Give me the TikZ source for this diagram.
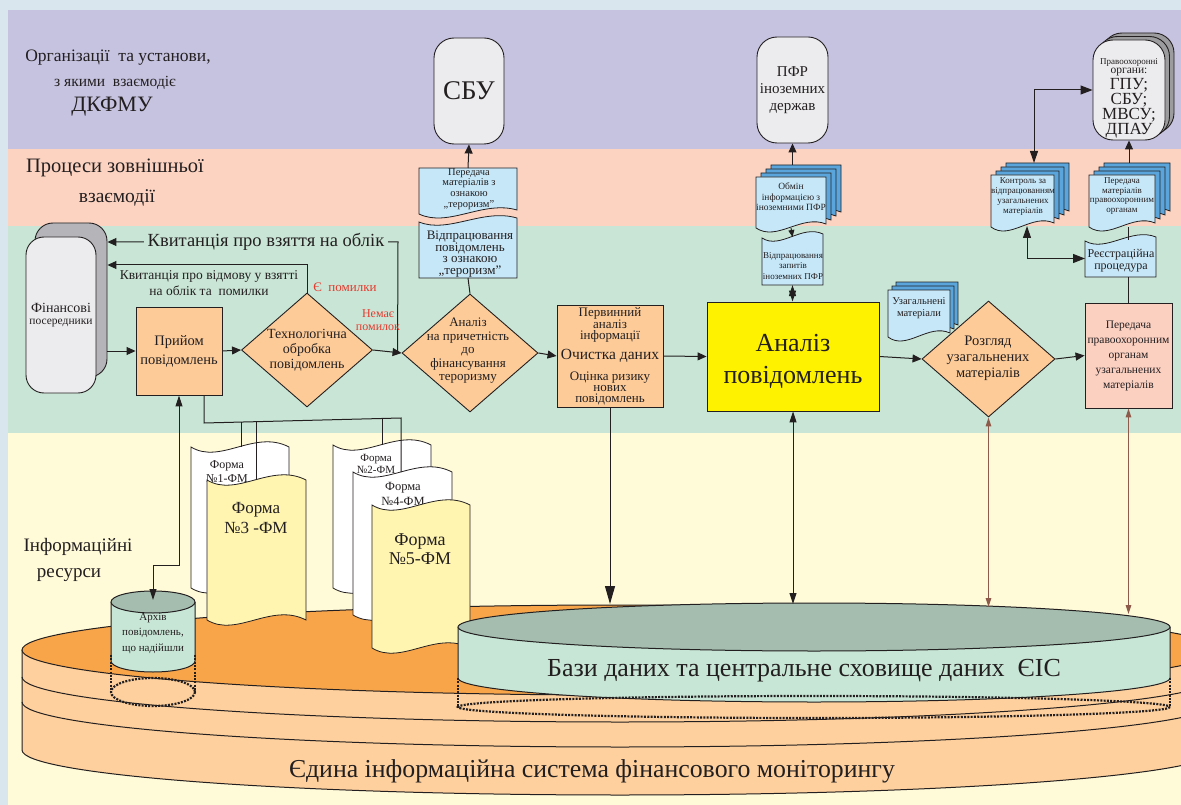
\documentclass[tikz,border=0pt]{standalone}
\usepackage{fontspec}
\setmainfont{Liberation Serif}
\usetikzlibrary{shapes.geometric,arrows.meta,calc}

\definecolor{bgout}{HTML}{D9E6EE}
\definecolor{bandP}{HTML}{C6C3E1}
\definecolor{bandR}{HTML}{FCD3C1}
\definecolor{bandG}{HTML}{C9E5D5}
\definecolor{bandY}{HTML}{FFFAD7}
\definecolor{boxO}{HTML}{FDCB98}
\definecolor{docB}{HTML}{C6E7F8}
\definecolor{sheetB}{HTML}{5AA6DC}
\definecolor{roundG}{HTML}{ECECEE}
\definecolor{shadG}{HTML}{B5B5B9}
\definecolor{shadG2}{HTML}{9C9C9E}
\definecolor{anY}{HTML}{FFF200}
\definecolor{boxR}{HTML}{FBD0C1}
\definecolor{redT}{HTML}{E53A2E}
\definecolor{formY}{HTML}{FFF5B1}
\definecolor{diskTop}{HTML}{F8A54A}
\definecolor{diskSide}{HTML}{FDD09D}
\definecolor{dbTop}{HTML}{A4BDAF}
\definecolor{dbSide}{HTML}{C8E6D6}
\definecolor{brownA}{HTML}{8E5A4A}
\definecolor{lineK}{HTML}{231F20}

\newcommand\fsz[2]{\fontsize{#1}{#2}\selectfont}

% sheet with a wavy lower edge round node #1, shifted by (#2,#3), filled with #4
\newcommand\wavebot[4]{%
  \filldraw[fill=#4, draw=lineK, line width=0.8pt]
    ($(#1.north west)+(#2,#3)$) -- ($(#1.north east)+(#2,#3)$) -- ($(#1.south east)+(#2,#3-4)$)
    .. controls ($(#1.south west)!0.65!(#1.south east)+(#2,#3-14)$)
    and ($(#1.south west)!0.3!(#1.south east)+(#2,#3+14)$) .. ($(#1.south west)+(#2,#3)$) -- cycle;}

% sheet with a wavy upper edge round node #1
\newcommand\wavetop[2]{%
  \filldraw[fill=#2, draw=lineK, line width=0.8pt]
    (#1.south west) -- (#1.south east) -- ($(#1.north east)+(0,-3)$)
    .. controls ($(#1.north west)!0.65!(#1.north east)+(0,-13)$)
    and ($(#1.north west)!0.3!(#1.north east)+(0,13)$) .. ($(#1.north west)+(0,1)$) -- cycle;}

% long form sheet, both ends wavy
\newcommand\formsheet[2]{%
  \filldraw[fill=#2, draw=lineK, line width=0.8pt]
    (#1.north west) .. controls ($(#1.north west)!0.3!(#1.north east)+(0,18)$)
    and ($(#1.north west)!0.65!(#1.north east)+(0,-18)$) .. (#1.north east)
    -- (#1.south east) .. controls ($(#1.south west)!0.65!(#1.south east)+(0,-18)$)
    and ($(#1.south west)!0.3!(#1.south east)+(0,18)$) .. (#1.south west) -- cycle;}

\begin{document}
\begin{tikzpicture}[x=1pt,y=-1pt,
  every node/.style={text=lineK},
  ln/.style={draw=lineK, line width=1pt},
  ar/.style={draw=lineK, line width=1pt, -{Triangle[length=9pt,width=8pt]}},
  dar/.style={draw=lineK, line width=1pt, {Triangle[length=11pt,width=7pt]}-{Triangle[length=11pt,width=7pt]}},
  bar/.style={draw=brownA, line width=1.4pt, {Triangle[length=9pt,width=5.5pt]}-{Triangle[length=9pt,width=5.5pt]}},
  dotb/.style={draw=lineK, line width=2.2pt, dash pattern=on 2pt off 1.3pt},
  box/.style={draw=lineK, line width=0.9pt, inner sep=0pt, align=center},
  dia/.style={diamond, draw=lineK, line width=0.9pt, fill=boxO, inner sep=0pt},
  spot/.style={inner sep=0pt, outer sep=0pt},
  txt/.style={inner sep=0pt, align=center}]

\useasboundingbox (0,0) rectangle (1181,805);

% bands
\fill[bgout] (0,0) rectangle (1181,805);
\fill[bandP] (8,10) rectangle (1181,149);
\fill[bandR] (8,149) rectangle (1181,226);
\fill[bandG] (8,226) rectangle (1181,433);
\fill[bandY] (8,433) rectangle (1181,805);

\node[txt, font=\fsz{17.5}{19}] (capA1) at (118,58) {Організації\ \ та установи,};
\node[txt, font=\fsz{15.5}{17}] (capA2) at (115,83) {з якими\ \ взаємодіє};
\node[txt, font=\fsz{22}{24}] (capA3) at (112,107) {ДКФМУ};
\node[txt, font=\fsz{20.5}{22}] (capB1) at (115,168) {Процеси зовнішньої};
\node[txt, font=\fsz{19.5}{22}] (capB2) at (117,198) {взаємодії};
\node[txt, font=\fsz{19}{21}] (capC1) at (78,547) {Інформаційні};
\node[txt, font=\fsz{19}{21}] (capC2) at (69,575) {ресурси};

% information system platter
\fill[diskSide] (22,650) rectangle (1240,750);
\fill[diskSide] (620,750) ellipse[x radius=598, y radius=45];
\draw[ln] (22,650) -- (22,750) arc[start angle=180, end angle=0, x radius=598, y radius=45];
\draw[ln] (22,677) arc[start angle=180, end angle=0, x radius=598, y radius=45];
\draw[ln] (22,702) arc[start angle=180, end angle=0, x radius=598, y radius=45];
\filldraw[fill=diskTop, draw=lineK, line width=1pt] (620,650) ellipse[x radius=598, y radius=45];
\node[txt, font=\fsz{25.8}{28}] (eis) at (592,771) {Єдина інформаційна система фінансового моніторингу};

% report forms
\node[spot, minimum width=98pt, minimum height=141pt] (f1) at (240,517.5) {};
\formsheet{f1}{white}
\node[txt, font=\fsz{12}{14}] (f1t) at (227,472) {Форма\\№1-ФМ};
\node[spot, minimum width=99pt, minimum height=140pt] (f3) at (256.5,550) {};
\formsheet{f3}{formY}
\node[txt, font=\fsz{17}{20}] (f3t) at (256,518) {Форма\\№3 -ФМ};
\node[spot, minimum width=98pt, minimum height=143pt] (f2) at (382,516.5) {};
\formsheet{f2}{white}
\node[txt, font=\fsz{11}{12}] (f2t) at (376,464) {Форма\\№2-ФМ};
\node[spot, minimum width=99pt, minimum height=143pt] (f4) at (402.5,543.5) {};
\formsheet{f4}{white}
\node[txt, font=\fsz{12.5}{15}] (f4t) at (403,494) {Форма\\№4-ФМ};
\node[spot, minimum width=98pt, minimum height=143pt] (f5) at (421,576.5) {};
\formsheet{f5}{formY}
\node[txt, font=\fsz{18}{19}] (f5t) at (420,549) {Форма\\№5-ФМ};

% archive cylinder
\fill[dbSide] (111,602) rectangle (195,661);
\fill[dbSide] (153,661) ellipse[x radius=42, y radius=11];
\draw[ln] (111,602) -- (111,661) arc[start angle=180, end angle=0, x radius=42, y radius=11] -- (195,602);
\filldraw[fill=dbTop, draw=lineK, line width=1pt] (153,602) ellipse[x radius=42, y radius=11];
\node[txt, font=\fsz{11}{15.5}] (arch) at (153,633) {Архів\\повідомлень,\\що надійшли};
\draw[dotb] (111,655) -- (111,692) (195,655) -- (195,692);
\draw[dotb] (153,692) ellipse[x radius=42, y radius=14];

% central data store cylinder
\fill[dbSide] (458,627) rectangle (1170,678);
\fill[dbSide] (814,678) ellipse[x radius=356, y radius=24];
\draw[ln] (458,627) -- (458,678) arc[start angle=180, end angle=0, x radius=356, y radius=24] -- (1170,627);
\filldraw[fill=dbTop, draw=lineK, line width=1pt] (814,627) ellipse[x radius=356, y radius=24];
\node[txt, font=\fsz{26}{28}] (dbt) at (804,671) {Бази даних та центральне сховище даних\ \ ЄІС};
\draw[dotb] (458,678) -- (458,707) (1170,678) -- (1170,707);
\draw[dotb] (814,707) ellipse[x radius=356, y radius=11];

% main process row
\node[box, rounded corners=18pt, fill=shadG, minimum width=72pt, minimum height=154pt] (finback) at (71,300) {};
\node[box, rounded corners=18pt, fill=roundG, minimum width=70pt, minimum height=156pt] (fin) at (61,315) {};
\node[txt, font=\fsz{14}{15}] (fint1) at (61,308) {Фінансові};
\node[txt, font=\fsz{11.5}{13}] (fint2) at (61,323) {посередники};

\node[box, fill=boxO, minimum width=86pt, minimum height=88pt, font=\fsz{14.5}{19}] (pryiom) at (179,351) {Прийом\\повідомлень};
\node[dia, minimum width=131pt, minimum height=114pt] (tech) at (307,350) {};
\node[txt, font=\fsz{14}{15}] (techt) at (307,350) {Технологічна\\обробка\\повідомлень};
\node[dia, minimum width=136pt, minimum height=118pt] (anl) at (470,353) {};
\node[txt, font=\fsz{13}{13.5}] (anlt) at (468,351) {Аналіз\\на причетність\\до\\фінансування\\тероризму};
\node[box, fill=boxO, minimum width=106pt, minimum height=102pt] (perv) at (610,356) {};
\node[txt, font=\fsz{13}{11.5}] (perva) at (610,325) {Первинний\\аналіз\\інформації};
\node[txt, font=\fsz{15.5}{17}] (pervb) at (610,356) {Очистка даних};
\node[txt, font=\fsz{13}{11}] (pervc) at (610,388) {Оцінка ризику\\нових\\повідомлень};
\node[box, fill=anY, minimum width=172pt, minimum height=109pt] (anp) at (793,356.5) {};
\node[txt, font=\fsz{26}{32}] (anpt) at (793,361) {Аналіз\\повідомлень};
\node[dia, minimum width=133pt, minimum height=116pt] (rozg) at (988.5,359) {};
\node[txt, font=\fsz{14.5}{16}] (rozgt) at (988,358) {Розгляд\\узагальнених\\матеріалів};
\node[box, fill=boxR, minimum width=87pt, minimum height=105pt, font=\fsz{11.5}{15}] (ppo) at (1128.5,355.5) {Передача\\правоохоронним\\органам\\узагальнених\\матеріалів};

% external organisations
\node[box, rounded corners=20pt, fill=roundG, minimum width=70pt, minimum height=106pt, font=\fsz{27}{30}] (sbu) at (469,91) {СБУ};
\node[box, rounded corners=20pt, fill=roundG, minimum width=71pt, minimum height=106pt, font=\fsz{15}{17}] (pfr) at (792.5,90) {ПФР\\іноземних\\держав};
\node[box, rounded corners=20pt, fill=shadG2, minimum width=72pt, minimum height=100pt] (pravob2) at (1138,83) {};
\node[box, rounded corners=20pt, fill=shadG2, minimum width=72pt, minimum height=100pt] (pravob1) at (1133.5,86.5) {};
\node[box, rounded corners=20pt, fill=roundG, minimum width=72pt, minimum height=100pt] (pravo) at (1129,90) {};
\node[txt, font=\fsz{9}{10}] (pravot1) at (1129,62) {Правоохоронні};
\node[txt, font=\fsz{11.5}{12}] (pravot2) at (1129,72) {органи:};
\node[txt, font=\fsz{17}{13.5}] (pravot3) at (1129,108) {ГПУ;\\СБУ;\\МВСУ;\\ДПАУ};

% external interaction documents
\node[spot, minimum width=98pt, minimum height=46pt] (pterr) at (468,191) {};
\wavebot{pterr}{0}{0}{docB}
\node[txt, font=\fsz{10.5}{10.7}] (pterrt) at (469,189) {Передача\\матеріалів з\\ознакою\\„тероризм”};
\node[spot, minimum width=98pt, minimum height=57pt] (vterr) at (468,249.5) {};
\wavetop{vterr}{docB}
\node[txt, font=\fsz{13}{11.7}] (vterrt) at (470,254) {Відпрацювання\\повідомлень\\з ознакою\\„тероризм”};

\node[spot, minimum width=70pt, minimum height=51pt] (obmin) at (791,202.5) {};
\wavebot{obmin}{15}{-12}{sheetB}
\wavebot{obmin}{10}{-8}{sheetB}
\wavebot{obmin}{5}{-4}{sheetB}
\wavebot{obmin}{0}{0}{docB}
\node[txt, font=\fsz{9.5}{10.5}] (obmint) at (791,197) {Обмін\\інформацією з\\іноземними ПФР};
\node[spot, minimum width=61pt, minimum height=48pt] (vzap) at (792.5,261) {};
\wavetop{vzap}{docB}
\node[txt, font=\fsz{9}{10.5}] (vzapt) at (793,266) {Відпрацювання\\запитів\\іноземних ПФР};

\node[spot, minimum width=63pt, minimum height=52pt] (kontr) at (1022.5,201) {};
\wavebot{kontr}{15}{-12}{sheetB}
\wavebot{kontr}{10}{-8}{sheetB}
\wavebot{kontr}{5}{-4}{sheetB}
\wavebot{kontr}{0}{0}{docB}
\node[txt, font=\fsz{9}{10}] (kontrt) at (1023,197) {Контроль за\\відпрацюванням\\узагальнених\\матеріалів};
\node[spot, minimum width=66pt, minimum height=52pt] (pmat) at (1122,201) {};
\wavebot{pmat}{15}{-12}{sheetB}
\wavebot{pmat}{10}{-8}{sheetB}
\wavebot{pmat}{5}{-4}{sheetB}
\wavebot{pmat}{0}{0}{docB}
\node[txt, font=\fsz{9}{9.5}] (pmatt) at (1122,196) {Передача\\матеріалів\\правоохоронним\\органам};
\node[spot, minimum width=71pt, minimum height=37pt] (reestr) at (1120.5,258.5) {};
\wavetop{reestr}{docB}
\node[txt, font=\fsz{12}{12}] (reestrt) at (1121,261) {Реєстраційна\\процедура};
\node[spot, minimum width=62pt, minimum height=47pt] (uzag) at (919,313.5) {};
\wavebot{uzag}{8}{-8}{sheetB}
\wavebot{uzag}{4}{-4}{sheetB}
\wavebot{uzag}{0}{0}{docB}
\node[txt, font=\fsz{10.5}{11.5}] (uzagt) at (919,308) {Узагальнені\\матеріали};

% receipts back to the reporting entities
\coordinate (kv) at ($(anl.west)+(-4,0)$);
\coordinate (kvA) at (398,242);
\coordinate (kvBy) at (0,265);
\draw[ar] (kv) -- (kvA) -- (finback.east |- kvA);
\node[txt, fill=bandG, inner xsep=4pt, inner ysep=2pt, font=\fsz{18.5}{20}] (kv1t) at (266,242) {Квитанція про взяття на облік};
\draw[ar] (tech.north) |- (finback.east |- kvBy);
\node[txt, font=\fsz{13.5}{16}] (kv2t) at (209,283) {Квитанція про відмову у взятті\\на облік та\ \ помилки};
\node[txt, text=redT, font=\fsz{13}{14}] (err) at (345,287) {Є\ \ помилки};
\node[txt, text=redT, font=\fsz{12}{12.5}] (noerr) at (378,320) {Немає\\помилок};

% main flow
\draw[ar] (finback.east |- pryiom.west) -- (pryiom.west);
\draw[ar] (pryiom.east) -- (tech.west);
\draw[ar] (tech.east) -- (anl.west);
\draw[ar] (anl.east) -- (perv.west);
\draw[ar] (perv.east) -- (anp.west);
\draw[ar] (anp.east) -- (rozg.west);
\draw[ar] (rozg.east) -- (ppo.west);

% external interaction links
\draw[ln] (anl.north) -- (vterr.south);
\draw[ar] (pterr.north) -- (sbu.south);
\coordinate (obtop) at ($(obmin.north)+(0,-12)$);
\draw[ar] (pfr.south |- obtop) -- (pfr.south);
\draw[draw=lineK, line width=1pt, -{Triangle[length=7pt,width=6pt]}] (obmin.south) -- (vzap.north);
\draw[dar] (vzap.south) -- (vzap.south |- anp.north);
\coordinate (pmtop) at ($(pmat.north)+(0,-12)$);
\draw[ar] (pravo.south |- pmtop) -- (pravo.south);
\draw[ln] (ppo.north) -- (ppo.north |- reestr.south);
\draw[ln] (ppo.north |- reestr.north) -- (ppo.north |- pmat.south);
\coordinate (kc) at ($(kontr.north)+(11.5,-12)$);
\draw[draw=lineK, line width=1pt, {Triangle[length=12pt,width=8pt]}-{Triangle[length=12pt,width=9pt]}] (kc) |- (pravo.west);
\coordinate (kb) at ($(kontr.south)+(4.5,-1)$);
\draw[draw=lineK, line width=1pt, {Triangle[length=12pt,width=8pt]}-{Triangle[length=12pt,width=9pt]}] (kb) |- (reestr.west);

% report forms fed from reception
\coordinate (fa) at ($(pryiom.south)+(25,0)$);
\coordinate (fb) at (204,423);
\coordinate (fc) at (401,418);
\coordinate (j1) at (241,422);
\coordinate (j2) at (256,422);
\coordinate (j3) at (382,418.5);
\draw[ln] (fa) -- (fb) -- (fc) -- (fc |- f4.north);
\draw[ln] (j1) -- (j1 |- f1.north) (j2) -- (j2 |- f3.north) (j3) -- (j3 |- f2.north);

% links to the information resources
\coordinate (archTop) at (153,600);
\draw[dar] (pryiom.south) -- ++(0,170) -| (archTop);
\coordinate (dk1) at (610,604);
\draw[draw=lineK, line width=1pt, -{Triangle[length=18pt,width=10pt]}] (perv.south) -- (dk1);
\coordinate (db1) at (793,604);
\draw[dar] (anp.south) -- (db1);
\coordinate (db2) at (988.5,607);
\draw[bar] (rozg.south) -- (db2);
\coordinate (db3) at (1128.5,614);
\draw[bar] (ppo.south) -- (db3);

\end{tikzpicture}
\end{document}
